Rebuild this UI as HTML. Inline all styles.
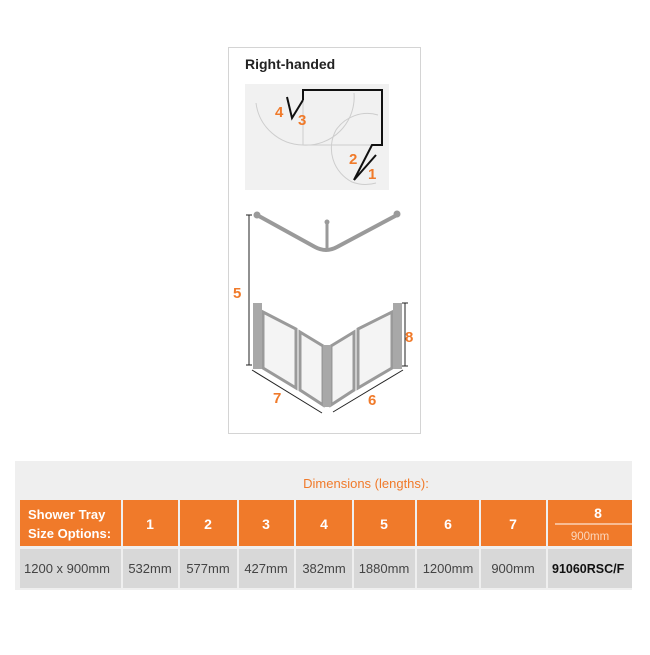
<!DOCTYPE html>
<html><head><meta charset="utf-8"><style>
body{margin:0;background:#fff;width:650px;height:650px;overflow:hidden;font-family:"Liberation Sans",sans-serif;}
</style></head><body>
<svg width="650" height="650" viewBox="0 0 650 650" xmlns="http://www.w3.org/2000/svg" font-family="Liberation Sans, sans-serif">
<rect x="228.5" y="47.5" width="192" height="386" fill="#fff" stroke="#d4d4d4"/>
<text x="245" y="69" font-size="14" font-weight="bold" fill="#222">Right-handed</text>
<rect x="245" y="84" width="144" height="106" fill="#f1f1f1"/>
<g fill="none" stroke="#cdcdcd" stroke-width="1">
<path d="M256 103 A48 48 0 0 0 303 145 A48 48 0 0 0 354 93"/>
<line x1="303" y1="145" x2="303" y2="100"/>
<line x1="303" y1="145" x2="372" y2="145"/>
<path d="M378 115 A38 38 0 0 0 336 130 A38 38 0 0 0 352 182 A38 38 0 0 0 376 183"/>
</g>
<path d="M303 100 V90 H382 V145 H372 L354 180" fill="none" stroke="#111" stroke-width="2"/>
<line x1="376" y1="155" x2="354" y2="180" stroke="#111" stroke-width="2"/>
<path d="M287 97 L292 118 L303 100" fill="none" stroke="#111" stroke-width="2"/>
<g fill="#f07a2a" font-size="15" font-weight="bold">
<text x="275" y="117">4</text><text x="298" y="125">3</text>
<text x="349" y="164">2</text><text x="368" y="179">1</text>
<text x="233" y="298">5</text><text x="405" y="342">8</text>
<text x="273" y="403">7</text><text x="368" y="405">6</text>
</g>
<!-- rail -->
<g stroke="#9a9a9a" stroke-width="4" fill="none" stroke-linecap="round">
<path d="M257 215 L315 247 Q326 253 337 247 L397 215"/>
<line x1="327" y1="222" x2="327" y2="250" stroke-width="3"/>
</g>
<g fill="#9a9a9a"><circle cx="257" cy="215" r="3.5"/><circle cx="397" cy="214" r="3.5"/><circle cx="327" cy="222" r="2.5"/></g>
<!-- dimension lines -->
<g stroke="#222" stroke-width="1">
<line x1="249" y1="215" x2="249" y2="365"/><line x1="246" y1="215" x2="252" y2="215"/><line x1="246" y1="365" x2="252" y2="365"/>
<line x1="405" y1="303" x2="405" y2="366"/><line x1="402" y1="303" x2="408" y2="303"/><line x1="402" y1="366" x2="408" y2="366"/>
<line x1="252" y1="370" x2="322" y2="413"/>
<line x1="333" y1="412" x2="403" y2="370"/>
</g>
<!-- panels -->
<g fill="#f4f4f4" stroke="#9a9a9a" stroke-width="3">
<path d="M263 312 L296 329 L296 388 L263 368 Z"/>
<path d="M300 332 L323 346 L323 405 L300 390 Z"/>
<path d="M331 346 L354 332 L354 390 L331 405 Z"/>
<path d="M358 329 L392 312 L392 368 L358 388 Z"/>
</g>
<g fill="#a8a8a8">
<rect x="253" y="303" width="9" height="66"/>
<rect x="393" y="303" width="9" height="66"/>
<rect x="323" y="345" width="8" height="62"/>
</g>
<!-- table -->
<rect x="15" y="461" width="617" height="129" fill="#efefef"/>
<text x="366" y="488" font-size="13" fill="#f07a2a" text-anchor="middle">Dimensions (lengths):</text>
<g fill="#f07a2a">
<rect x="20" y="500" width="101" height="46"/><rect x="123" y="500" width="55" height="46"/>
<rect x="180" y="500" width="57" height="46"/><rect x="239" y="500" width="55" height="46"/>
<rect x="296" y="500" width="56" height="46"/><rect x="354" y="500" width="61" height="46"/>
<rect x="417" y="500" width="62" height="46"/><rect x="481" y="500" width="65" height="46"/>
<rect x="548" y="500" width="84" height="46"/>
</g>
<g fill="#d8d8d8">
<rect x="20" y="549" width="101" height="39"/><rect x="123" y="549" width="55" height="39"/>
<rect x="180" y="549" width="57" height="39"/><rect x="239" y="549" width="55" height="39"/>
<rect x="296" y="549" width="56" height="39"/><rect x="354" y="549" width="61" height="39"/>
<rect x="417" y="549" width="62" height="39"/><rect x="481" y="549" width="65" height="39"/>
<rect x="548" y="549" width="84" height="39"/>
</g>
<g fill="#fff" font-size="13" font-weight="bold">
<text x="28" y="519">Shower Tray</text><text x="28" y="538">Size Options:</text>
<g text-anchor="middle" font-size="14"><text x="150" y="529">1</text><text x="208" y="529">2</text><text x="266" y="529">3</text><text x="324" y="529">4</text><text x="384" y="529">5</text><text x="448" y="529">6</text><text x="513" y="529">7</text><text x="598" y="518">8</text></g>
</g>
<line x1="555" y1="524" x2="632" y2="524" stroke="#fff"/>
<text x="590" y="540" font-size="11.5" fill="#fbd7bd" text-anchor="middle">900mm</text>
<g fill="#444" font-size="13" text-anchor="middle">
<text x="67" y="573">1200 x 900mm</text><text x="150" y="573">532mm</text><text x="208" y="573">577mm</text><text x="266" y="573">427mm</text><text x="324" y="573">382mm</text><text x="384" y="573">1880mm</text><text x="448" y="573">1200mm</text><text x="513" y="573">900mm</text>
</g>
<text x="552" y="573" font-size="12.5" font-weight="bold" fill="#111">91060RSC/F</text>
</svg>
</body></html>
